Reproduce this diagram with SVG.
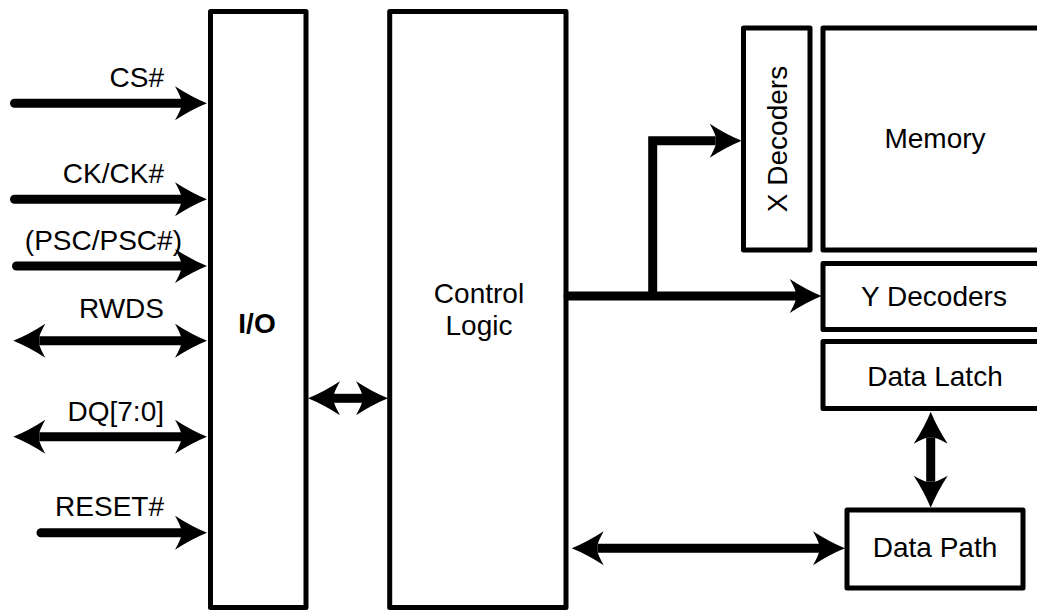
<svg xmlns="http://www.w3.org/2000/svg" width="1037" height="610" viewBox="0 0 1037 610">
<style>
.box{fill:#fff;stroke:#000;stroke-width:5;stroke-linejoin:round}
.t{font-family:"Liberation Sans",Arial,sans-serif;font-size:28px;fill:#000}
.m{text-anchor:middle}
.e{text-anchor:end}
.ln{fill:none;stroke:#000;stroke-width:9}
</style>
<defs>
<marker id="ah" viewBox="0 0 34 36" refX="6" refY="18" markerWidth="34" markerHeight="36" markerUnits="userSpaceOnUse" orient="auto-start-reverse" overflow="visible">
<path d="M32,18 Q17,12 0,1 Q5,10 6,14 L6,22 Q5,26 0,35 Q17,24 32,18Z" fill="#000"/>
</marker>
</defs>
<g id="io"><rect class="box" x="210.5" y="11.5" width="95.5" height="596"/><text class="t m" x="257" y="333" font-weight="bold">I/O</text></g>
<g id="control"><rect class="box" x="389.7" y="11.5" width="176.3" height="596"/><text class="t m" x="479" y="303">Control</text><text class="t m" x="479" y="335">Logic</text></g>
<g id="xdec"><rect class="box" x="743.5" y="28" width="66.5" height="222"/><text class="t m" transform="translate(786.5,139) rotate(-90)">X Decoders</text></g>
<g id="memory"><rect class="box" x="823" y="28" width="224" height="222"/><text class="t m" x="935" y="148">Memory</text></g>
<g id="ydec"><rect class="box" x="823" y="263.5" width="224" height="66"/><text class="t m" x="934" y="306">Y Decoders</text></g>
<g id="latch"><rect class="box" x="823" y="341.5" width="224" height="67"/><text class="t m" x="935" y="386">Data Latch</text></g>
<g id="datapath"><rect class="box" x="847" y="510" width="176" height="78"/><text class="t m" x="935" y="557">Data Path</text></g>
<g id="labels">
<text class="t e" x="164" y="87">CS#</text>
<text class="t e" x="164" y="183">CK/CK#</text>
<text class="t e" x="182" y="250">(PSC/PSC#)</text>
<text class="t e" x="164" y="318">RWDS</text>
<text class="t e" x="164" y="421">DQ[7:0]</text>
<text class="t e" x="164" y="516">RESET#</text>
</g>
<g id="connectors">
<path class="ln" stroke-linecap="round" d="M14.5,103.3H181" marker-end="url(#ah)"/>
<path class="ln" stroke-linecap="round" d="M14.5,199.3H181" marker-end="url(#ah)"/>
<path class="ln" stroke-linecap="round" d="M16.5,266H181" marker-end="url(#ah)"/>
<path class="ln" d="M39.3,340.7H181" marker-start="url(#ah)" marker-end="url(#ah)"/>
<path class="ln" d="M39.3,436.7H181" marker-start="url(#ah)" marker-end="url(#ah)"/>
<path class="ln" stroke-linecap="round" d="M41,532.7H181" marker-end="url(#ah)"/>
<path class="ln" d="M334,398.3H362" marker-start="url(#ah)" marker-end="url(#ah)"/>
<path class="ln" stroke-linecap="round" d="M568,296H795.7" marker-end="url(#ah)"/>
<path class="ln" d="M652.7,296V140.7H715.7" marker-end="url(#ah)"/>
<path class="ln" d="M930.7,437.7V481.7" marker-start="url(#ah)" marker-end="url(#ah)"/>
<path class="ln" d="M597.7,548.3H819" marker-start="url(#ah)" marker-end="url(#ah)"/>
</g>
</svg>
